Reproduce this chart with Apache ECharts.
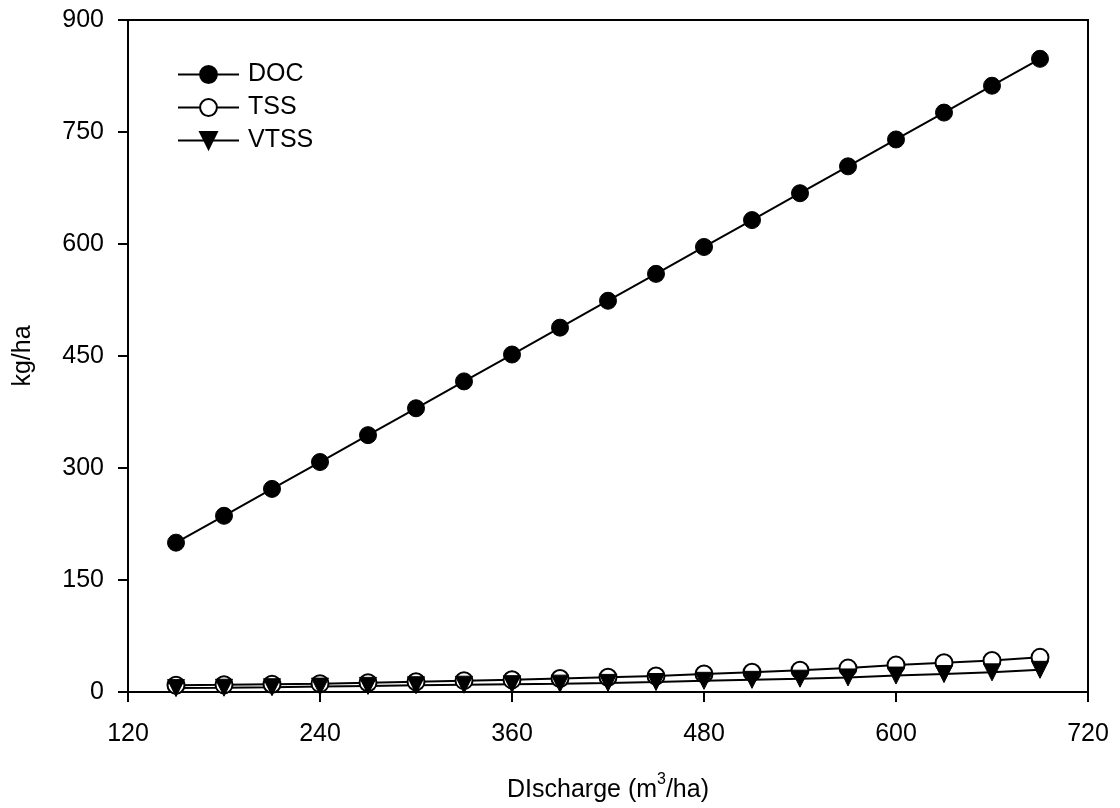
<!DOCTYPE html>
<html>
<head>
<meta charset="utf-8">
<script src="https://cdn.jsdelivr.net/npm/echarts@6/dist/echarts.min.js"></script>
<style>
html,body{margin:0;padding:0;background:#fff;}
#chart{width:1120px;height:808px;}
</style>
</head>
<body>
<div id="chart"></div>
<script>
const discharge = [150,180,210,240,270,300,330,360,390,420,450,480,510,540,570,600,630,660,690];
const doc  = [200,236,272,308,344,380,416,452,488,524,560,596,632,668,704,740,776,812,848];
const tss  = [9,9.6,10.4,11.2,12.4,13.7,15.2,16.3,18,19.8,21.4,24.2,26.5,29.2,32,36,39.2,42.2,46.4];
const vtss = [5.2,5.7,6.4,7.2,8.2,9.1,9.8,10.5,11.2,12.2,13.4,15,16.3,17.8,19.5,22,24,26.3,29.7];
const seriesNames = ['DOC','TSS','VTSS'];
const xTicks = [120,240,360,480,600,720];
const yTicks = [0,150,300,450,600,750,900];

const FONT = '"Liberation Sans", Arial, sans-serif';
const pairs = arr => discharge.map((x,i)=>[x,arr[i]]);

const chart = echarts.init(document.getElementById('chart'), null, {renderer:'canvas'});
chart.setOption({
  animation:false,
  backgroundColor:'#fff',
  textStyle:{fontFamily:FONT,color:'#000'},
  grid:{left:128,right:32,top:20,bottom:116,show:true,borderColor:'#000',borderWidth:2,
        backgroundColor:'transparent',containLabel:false,outerBoundsMode:'none'},
  legend:{
    orient:'vertical',left:172,top:57,
    itemWidth:61,itemHeight:21,itemGap:8,
    textStyle:{fontFamily:FONT,fontSize:25,color:'#000',padding:[0,0,0,4]},
    data:seriesNames
  },
  xAxis:{
    type:'value',min:xTicks[0],max:xTicks[xTicks.length-1],interval:120,
    name:'DIscharge (m{sup|3}/ha)',nameLocation:'middle',nameGap:80,
    nameTextStyle:{fontFamily:FONT,fontSize:25,color:'#000',
      rich:{sup:{fontFamily:FONT,fontSize:16,color:'#000',padding:[0,0,20,0]}}},
    axisLine:{show:true,lineStyle:{color:'#000',width:2}},
    axisTick:{show:true,inside:false,length:10,lineStyle:{color:'#000',width:2}},
    axisLabel:{fontFamily:FONT,fontSize:25,color:'#000',margin:30},
    splitLine:{show:false}
  },
  yAxis:{
    type:'value',min:yTicks[0],max:yTicks[yTicks.length-1],interval:150,
    name:'kg/ha',nameLocation:'middle',nameGap:92,nameRotate:90,
    nameTextStyle:{fontFamily:FONT,fontSize:25,color:'#000'},
    axisLine:{show:true,lineStyle:{color:'#000',width:2}},
    axisTick:{show:true,inside:false,length:10,lineStyle:{color:'#000',width:2}},
    axisLabel:{fontFamily:FONT,fontSize:25,color:'#000',margin:24},
    splitLine:{show:false}
  },
  series:[
    {name:'DOC',type:'line',data:pairs(doc),symbol:'circle',symbolSize:17,
     lineStyle:{color:'#000',width:2},itemStyle:{color:'#000',borderColor:'#000',borderWidth:1}},
    {name:'TSS',type:'line',data:pairs(tss),symbol:'circle',symbolSize:17,
     lineStyle:{color:'#000',width:2},itemStyle:{color:'#fff',borderColor:'#000',borderWidth:2}},
    {name:'VTSS',type:'line',data:pairs(vtss),symbol:'triangle',symbolRotate:180,symbolSize:17,
     lineStyle:{color:'#000',width:2},itemStyle:{color:'#000',borderColor:'#000',borderWidth:1}}
  ]
});
</script>
</body>
</html>
